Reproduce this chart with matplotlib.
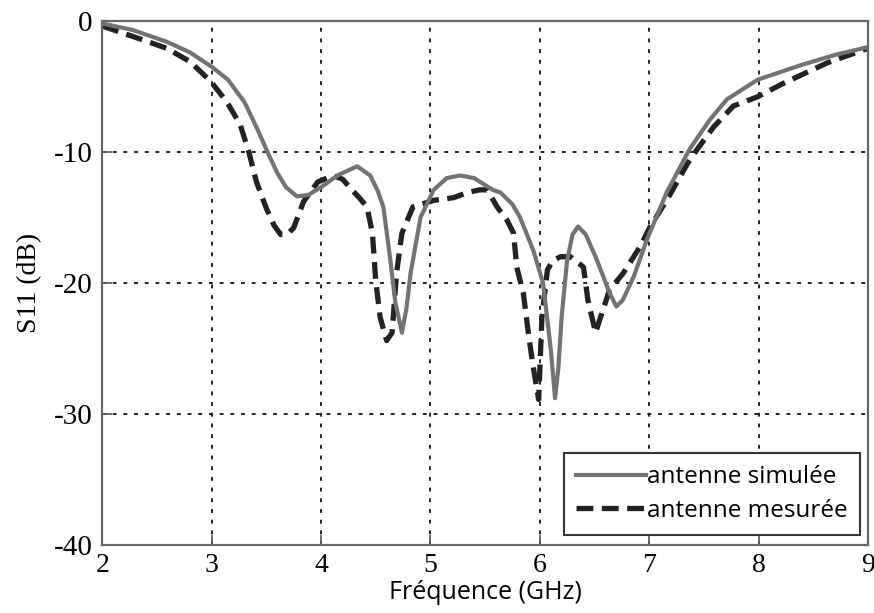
import matplotlib
matplotlib.use('Agg')
import matplotlib.pyplot as plt

# frequency (GHz) / S11 (dB)
f_sim = [2.00, 2.28, 2.59, 2.80, 3.00, 3.15, 3.30, 3.42, 3.51, 3.60, 3.68, 3.78, 3.88,
         4.00, 4.15, 4.33, 4.45, 4.52, 4.57, 4.63, 4.68, 4.74, 4.78, 4.82, 4.91, 5.03,
         5.15, 5.27, 5.40, 5.57, 5.64, 5.75, 5.82, 5.94, 6.03, 6.10, 6.14, 6.17, 6.20,
         6.25, 6.30, 6.35, 6.42, 6.52, 6.64, 6.70, 6.76, 6.86, 6.98, 7.16, 7.37, 7.55,
         7.71, 7.99, 8.38, 8.70, 9.00]
s_sim = [-0.2, -0.7, -1.6, -2.4, -3.5, -4.5, -6.2, -8.3, -10.0, -11.6, -12.7, -13.4, -13.3,
         -12.7, -11.8, -11.1, -11.8, -13.0, -14.2, -18.0, -21.5, -23.8, -22.0, -19.2, -15.0, -12.9,
         -12.0, -11.8, -12.0, -12.9, -13.1, -14.0, -15.0, -17.5, -20.0, -25.0, -28.8, -26.5, -22.6,
         -18.3, -16.3, -15.7, -16.3, -18.2, -20.8, -21.8, -21.3, -19.5, -16.7, -13.1, -9.8, -7.6,
         -6.0, -4.5, -3.4, -2.6, -2.0]

f_mes = [2.00, 2.37, 2.59, 2.80, 2.99, 3.14, 3.26, 3.34, 3.41, 3.50, 3.57, 3.63, 3.69,
         3.75, 3.84, 3.97, 4.11, 4.20, 4.27, 4.35, 4.42, 4.47, 4.50, 4.54, 4.60, 4.65,
         4.69, 4.74, 4.84, 5.03, 5.21, 5.34, 5.45, 5.52, 5.61, 5.70, 5.76, 5.79, 5.85,
         5.90, 5.94, 5.99, 6.02, 6.07, 6.12, 6.19, 6.28, 6.40, 6.44, 6.51, 6.58, 6.64,
         6.76, 6.92, 7.01, 7.16, 7.35, 7.44, 7.59, 7.77, 7.99, 8.22, 8.63, 9.00]
s_mes = [-0.4, -1.45, -2.1, -3.1, -4.6, -6.2, -7.9, -10.0, -12.3, -14.3, -15.6, -16.3, -16.3,
         -15.8, -13.8, -12.3, -11.8, -12.1, -12.8, -13.5, -14.2, -16.2, -19.8, -22.6, -24.4, -23.8,
         -19.3, -16.2, -14.2, -13.7, -13.5, -13.1, -12.9, -12.9, -14.2, -15.2, -16.2, -18.8, -20.8,
         -24.1, -26.4, -28.9, -22.6, -19.0, -18.3, -18.0, -18.0, -18.8, -21.3, -23.8, -22.0, -20.5,
         -19.3, -17.2, -15.7, -13.7, -10.9, -9.8, -8.1, -6.5, -5.8, -4.8, -3.2, -2.1]

xticks = [2, 3, 4, 5, 6, 7, 8, 9]
yticks = [0, -10, -20, -30, -40]

fig = plt.figure(figsize=(8.74, 6.13), dpi=100)
ax = fig.add_axes([0.117, 0.111, 0.876, 0.855])

ax.plot(f_sim, s_sim, color='#737373', lw=3.0, label='antenne simulée', zorder=3)
ax.plot(f_mes, s_mes, color='#222222', lw=3.8, ls=(0, (3.2, 1.6)), label='antenne mesurée', zorder=2)

ax.set_xlim(2, 9)
ax.set_ylim(-40, 0)
ax.set_xticks(xticks)
ax.set_yticks(yticks)
ax.set_xticklabels([str(t) for t in xticks], family='Liberation Serif', fontsize=20)
ax.set_yticklabels([str(t) for t in yticks], family='Liberation Serif', fontsize=21)
ax.tick_params(direction='in', length=7, width=1.2, color='#555555')
ax.tick_params(axis='x', pad=6)
ax.tick_params(axis='y', pad=7)
ax.grid(True, color='#222222', ls=(0, (2, 3.5)), lw=1.4)
for sp in ax.spines.values():
    sp.set_color('#666666')
    sp.set_linewidth(1.6)

ax.set_xlabel('Fréquence (GHz)', family='Open Sans', fontsize=18, labelpad=1)
ax.set_ylabel('S11 (dB)', family='Liberation Serif', fontsize=20, labelpad=8)

leg = ax.legend(loc='lower right', bbox_to_anchor=(0.99, 0.019), borderaxespad=0,
                fancybox=False, framealpha=1, edgecolor='#333333',
                prop={'family': 'Open Sans', 'size': 17.5},
                handlelength=2.9, handletextpad=0.05, borderpad=0.5, labelspacing=0.4)
leg.get_frame().set_linewidth(1.5)

fig.savefig('out.png', dpi=100)
